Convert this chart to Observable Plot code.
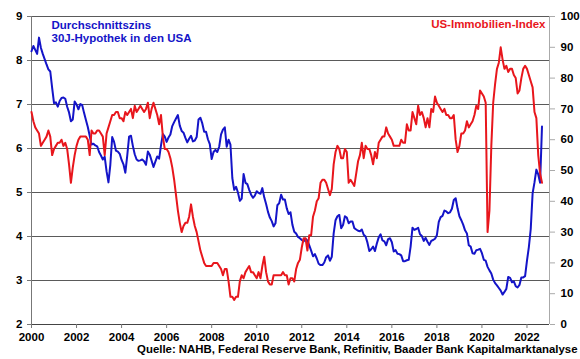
<!DOCTYPE html>
<html><head><meta charset="utf-8">
<script src="https://cdn.jsdelivr.net/npm/d3@7"></script>
<script src="https://cdn.jsdelivr.net/npm/@observablehq/plot@0.6"></script>
<style>
body{margin:0;background:#fff;}
#chart svg{display:block;}
</style></head><body><div id="chart"></div>
<script>
const startYear = 2000;
// 30-year mortgage rate, monthly, Jan 2000 – Sep 2022 (left axis, %)
const mortgageRate = [
 8.21,8.33,8.24,8.15,8.52,8.29,8.15,8.03,7.91,7.80,7.75,7.38,
 7.03,7.05,6.95,7.08,7.15,7.16,7.13,6.95,6.82,6.62,6.66,7.07,
 7.00,6.89,7.01,6.99,6.81,6.65,6.49,6.29,6.09,6.11,6.07,6.05,
 5.92,5.84,5.75,5.81,5.48,5.23,5.63,6.26,6.15,5.95,5.93,5.88,
 5.74,5.64,5.45,5.83,6.27,6.29,6.06,5.87,5.75,5.72,5.73,5.75,
 5.71,5.63,5.93,5.86,5.72,5.58,5.70,5.82,5.77,6.07,6.33,6.27,
 6.15,6.25,6.32,6.51,6.60,6.68,6.76,6.52,6.40,6.36,6.24,6.14,
 6.22,6.29,6.16,6.18,6.26,6.66,6.70,6.57,6.38,6.38,6.21,6.10,
 5.76,5.92,5.97,5.92,6.04,6.32,6.43,6.48,6.04,6.20,6.09,5.33,
 5.06,5.13,5.00,4.81,4.86,5.42,5.22,5.19,5.06,4.95,4.88,4.93,
 5.03,4.99,4.97,5.10,4.89,4.74,4.56,4.43,4.35,4.23,4.30,4.71,
 4.76,4.95,4.84,4.84,4.64,4.51,4.55,4.27,4.11,4.07,3.99,3.96,
 3.92,3.89,3.95,3.91,3.80,3.68,3.55,3.60,3.50,3.38,3.35,3.35,
 3.41,3.53,3.57,3.45,3.54,4.07,4.37,4.46,4.49,4.19,4.26,4.46,
 4.43,4.30,4.34,4.34,4.19,4.16,4.13,4.12,4.16,4.04,4.00,3.86,
 3.67,3.71,3.77,3.67,3.84,3.98,4.05,3.91,3.89,3.80,3.94,3.96,
 3.87,3.66,3.69,3.61,3.60,3.57,3.44,3.44,3.46,3.47,3.77,4.20,
 4.15,4.17,4.20,4.05,4.01,3.90,3.97,3.88,3.81,3.90,3.92,3.95,
 4.03,4.33,4.44,4.47,4.59,4.57,4.53,4.55,4.63,4.83,4.87,4.64,
 4.46,4.37,4.27,4.14,4.07,3.80,3.77,3.62,3.61,3.69,3.70,3.72,
 3.62,3.47,3.45,3.31,3.23,3.16,3.02,2.94,2.89,2.83,2.77,2.68,
 2.74,2.81,3.08,3.06,2.96,2.98,2.87,2.84,2.90,3.07,3.07,3.10,
 3.45,3.76,4.17,4.98,5.23,5.52,5.41,5.22,6.50
];
// NAHB housing market index, monthly, Jan 2000 – Sep 2022 (right axis)
const housingIndex = [
 69,66,64,63,62,58,59,60,61,63,61,55,
 57,58,59,59,60,58,59,57,52,46,51,55,
 58,60,61,61,61,61,60,55,63,62,62,63,
 63,62,61,55,62,64,66,68,68,69,69,67,
 67,66,69,68,69,70,67,71,69,70,71,70,
 69,70,72,67,70,72,70,68,65,68,61,57,
 57,56,54,51,47,42,37,33,30,32,33,33,
 35,39,35,32,30,27,24,22,20,19,19,19,
 19,20,20,20,19,18,16,18,18,14,9,9,
 8,9,9,14,16,15,17,18,19,17,17,16,
 15,17,15,19,22,17,14,13,13,16,16,16,
 16,16,17,16,16,13,15,15,14,18,20,21,
 25,28,28,24,29,29,35,37,40,41,46,47,
 47,46,44,42,44,52,56,58,57,54,54,57,
 56,46,47,46,45,49,53,55,59,54,58,57,
 57,55,52,56,54,59,60,61,61,64,62,61,
 60,58,58,58,58,60,59,59,65,63,63,69,
 67,65,71,68,69,67,64,67,64,70,69,74,
 72,71,70,69,70,68,68,67,67,68,60,56,
 58,62,62,63,66,64,65,66,68,71,70,76,
 75,74,72,30,37,58,72,78,83,85,90,86,
 83,84,82,83,83,81,80,75,76,80,83,84,
 83,81,79,77,69,67,55,49,46
];
const xTicks = [2000,2002,2004,2006,2008,2010,2012,2014,2016,2018,2020,2022];
const leftTicks = [2,3,4,5,6,7,8,9];
const rightTicks = [0,10,20,30,40,50,60,70,80,90,100];
const leftTitle = ["Durchschnittszins", "30J-Hypothek in den USA"];
const rightTitle = "US-Immobilien-Index";
const sourceText = "Quelle: NAHB, Federal Reserve Bank, Refinitiv, Baader Bank Kapitalmarktanalyse";

const blue = "#1414c8", red = "#e8161c";
const toLeft = r => 2 + r * 7 / 100;
const rateData = mortgageRate.map((v, i) => ({t: startYear + i / 12, v}));
const indexData = housingIndex.map((v, i) => ({t: startYear + i / 12, v: toLeft(v)}));

const chart = Plot.plot({
  width: 580, height: 359,
  marginLeft: 31, marginRight: 31, marginTop: 16, marginBottom: 35,
  style: {fontFamily: "'Liberation Sans', Arial, sans-serif", fontWeight: "bold", fontSize: "11px", color: "#000", background: "#fff"},
  x: {domain: [2000, 2023], label: null},
  y: {domain: [2, 9], label: null},
  marks: [
    Plot.gridY(leftTicks.slice(1), {stroke: "#5a5a5a", strokeOpacity: 1}),
    Plot.ruleX([2000], {stroke: "#777"}),
    Plot.ruleX([2023], {stroke: "#aaa"}),
    Plot.ruleY([2], {stroke: "#444"}),
    Plot.axisX(xTicks, {tickFormat: d => String(d), tickSize: 4, tickPadding: 4, stroke: "#777", fontSize: 11.5, fontWeight: "bold", label: null}),
    Plot.axisY(leftTicks, {anchor: "left", tickSize: 4, tickPadding: 5, stroke: "#777", fontSize: 11.5, fontWeight: "bold", label: null}),
    Plot.axisY(rightTicks.map(toLeft), {anchor: "right", tickFormat: v => String(Math.round((v - 2) * 100 / 7)), tickSize: 5, tickPadding: 6, stroke: "#aaa", fontSize: 11.5, fontWeight: "bold", label: null}),
    Plot.line(rateData, {x: "t", y: "v", stroke: blue, strokeWidth: 2}),
    Plot.line(indexData, {x: "t", y: "v", stroke: red, strokeWidth: 2}),
    Plot.text([leftTitle.join("\n")], {frameAnchor: "top-left", textAnchor: "start", lineAnchor: "top", dx: 20, dy: 3, fill: blue, fontSize: 11.5, fontWeight: "bold", lineHeight: 1.15}),
    Plot.text([rightTitle], {frameAnchor: "top-right", textAnchor: "end", lineAnchor: "top", dx: -4, dy: 3, fill: red, fontSize: 11.5, fontWeight: "bold"}),
    Plot.text([sourceText], {frameAnchor: "bottom-right", textAnchor: "end", lineAnchor: "top", dx: 28, dy: 20, fill: "#000", fontSize: 11.4, fontWeight: "bold"})
  ]
});
document.getElementById("chart").appendChild(chart);
</script>
</body></html>
